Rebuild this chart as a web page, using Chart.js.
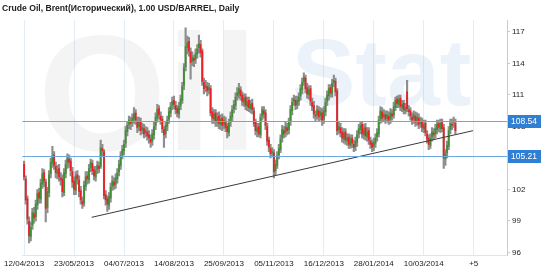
<!DOCTYPE html>
<html>
<head>
<meta charset="utf-8">
<script src="https://cdn.jsdelivr.net/npm/chart.js@4"></script>
<style>
  html, body { margin: 0; padding: 0; background: #fff; }
  canvas { display: block; }
</style>
</head>
<body>
<canvas id="chart" width="550" height="273"></canvas>
<script>
const title = 'Crude Oil, Brent(Исторический), 1.00 USD/BARREL, Daily';

// bar index of each date tick and its label
const tickIdx = [0, 30, 60, 90, 120, 150, 180, 210, 240, 270];
const tickLabels = ['12/04/2013', '23/05/2013', '04/07/2013', '14/08/2013', '25/09/2013',
  '05/11/2013', '16/12/2013', '28/01/2014', '10/03/2014', '+5'];
const priceTicks = [96, 99, 102, 105, 108, 111, 114, 117];

// marked levels and the drawn trend line (bar index / price)
const levels = [108.54, 105.21];
const trendX = [40.6, 269.6];
const trendY = [99.35, 107.6];

const opens = [
  104.4,103.0,101.1,99.0,97.5,98.6,99.7,99.4,100.5,101.7,
  101.1,102.5,103.6,102.7,100.3,101.7,103.5,104.5,105.3,104.2,
  103.5,104.0,103.1,103.0,101.7,103.5,104.5,104.9,104.7,103.7,
  102.8,101.9,103.4,102.9,101.9,100.9,100.7,102.3,103.3,102.9,
  104.1,104.5,103.9,103.2,103.9,104.2,104.2,105.9,105.6,101.5,
  101.1,100.5,101.2,102.3,102.7,102.5,103.0,103.7,104.3,105.3,
  105.7,106.4,107.5,108.2,108.5,108.4,108.7,109.3,108.5,108.0,
  108.4,107.7,107.8,107.4,107.5,107.2,106.8,106.6,107.2,108.1,
  108.8,109.7,109.0,108.7,107.7,107.3,108.0,108.7,109.3,110.0,
  110.5,110.0,109.7,109.2,110.0,110.5,111.9,113.7,115.5,116.1,
  115.1,114.2,114.5,114.4,114.9,115.5,115.8,115.2,112.2,111.7,
  111.8,111.5,111.6,109.4,108.7,109.3,108.4,109.0,108.2,108.8,
  108.2,108.5,108.0,107.4,108.4,108.9,109.7,110.0,110.9,111.1,
  111.5,111.0,110.3,110.8,109.9,110.5,109.7,110.2,109.5,108.4,
  107.5,108.0,107.2,109.0,109.5,109.3,108.0,106.7,105.9,105.5,
  105.5,103.8,104.3,105.3,105.8,106.9,107.6,107.4,107.9,107.7,
  108.5,109.5,110.4,110.5,110.1,110.4,110.9,111.5,112.3,112.6,
  111.7,111.0,111.6,110.3,110.0,109.1,109.1,109.5,109.0,109.3,
  108.7,109.4,110.4,110.9,111.7,111.1,112.2,112.3,111.4,107.7,
  107.9,107.5,106.8,107.5,106.6,107.0,106.2,106.9,106.3,106.1,
  106.5,107.3,107.7,108.2,107.2,107.9,107.0,107.6,106.6,106.4,
  106.1,106.4,107.0,107.3,108.7,109.4,108.9,109.1,108.8,109.0,
  108.7,109.2,109.1,109.8,110.6,110.1,110.7,109.8,110.2,109.5,
  111.3,109.6,109.5,108.9,108.7,109.0,108.5,108.8,108.3,108.4,
  107.8,108.3,107.3,106.9,106.2,107.0,107.4,107.3,107.7,108.3,
  107.8,108.4,107.9,104.9,105.5,106.1,107.7,108.2,108.5,108.3
];
const highs = [
  104.7,103.3,101.4,99.4,98.9,100.2,100.3,101.0,102.0,102.1,
  103.0,104.0,103.9,103.0,102.2,103.8,105.0,106.1,105.6,104.6,
  104.3,104.4,103.6,103.4,104.0,104.8,105.4,105.3,105.0,104.1,
  103.2,103.7,103.8,103.3,102.3,101.3,102.8,103.7,103.7,104.4,
  104.9,104.8,104.2,104.2,104.7,104.6,106.7,106.3,105.8,101.9,
  101.4,101.7,102.6,103.3,103.1,103.5,104.0,104.8,105.6,106.2,
  106.7,108.0,108.5,109.0,108.9,109.2,109.8,109.6,108.9,108.9,
  108.8,108.3,108.2,108.0,107.9,107.6,107.2,107.7,108.4,109.3,
  110.1,110.0,109.4,109.0,108.0,108.5,109.0,109.8,110.3,110.8,
  110.9,110.4,110.0,110.3,111.0,112.2,114.0,117.4,116.6,116.5,
  115.5,115.1,114.8,115.4,115.8,116.7,116.2,115.4,112.6,112.4,
  112.2,112.1,111.9,109.8,109.6,109.6,109.3,109.4,109.1,109.2,
  109.0,108.9,108.3,108.7,109.4,110.0,110.5,111.2,111.7,112.1,
  111.8,111.3,111.1,111.1,110.8,110.8,110.5,110.6,109.8,108.7,
  108.3,108.3,109.2,109.9,109.9,109.6,108.3,107.0,106.3,106.0,
  105.8,104.8,105.6,106.3,107.2,108.1,108.0,108.4,108.3,108.8,
  110.0,110.7,111.0,110.9,110.9,111.2,112.0,112.6,113.1,112.9,
  112.1,111.9,111.9,110.7,110.4,109.5,110.0,109.9,109.8,109.7,
  109.9,110.7,111.4,112.0,112.0,112.5,112.9,112.6,111.6,108.5,
  108.3,107.9,107.8,107.8,107.3,107.3,107.2,107.2,106.7,107.0,
  107.6,108.2,108.5,108.5,108.2,108.3,107.9,107.9,107.0,106.7,
  106.9,107.3,107.8,109.0,109.9,109.8,109.6,109.5,109.5,109.4,
  109.7,109.6,110.3,110.8,110.9,111.0,111.0,110.5,110.5,110.2,
  112.4,110.0,109.8,109.3,109.5,109.4,109.3,109.2,108.9,108.8,
  108.6,108.6,107.6,107.2,107.3,107.9,107.8,108.2,108.6,108.6,
  108.7,108.7,108.2,105.8,106.6,108.0,108.7,108.7,108.9,108.7
];
const lows = [
  102.9,100.6,98.7,96.9,97.1,98.2,98.8,99.0,100.1,100.7,
  100.7,102.1,102.3,98.9,99.8,101.3,103.1,104.1,103.9,103.1,
  103.0,102.8,102.4,101.3,101.4,103.1,104.0,104.1,103.3,102.2,
  101.5,101.5,102.5,101.3,100.6,100.2,100.4,101.9,102.5,102.6,
  103.7,103.4,102.9,102.8,103.5,103.6,104.0,105.2,101.1,100.5,
  99.9,100.1,100.8,101.9,102.0,102.1,102.6,103.3,103.9,104.9,
  105.3,106.0,107.1,107.8,107.7,108.0,108.3,108.2,107.4,107.6,
  107.2,107.3,106.9,107.0,106.7,106.4,106.0,106.2,106.8,107.7,
  108.4,108.7,108.2,107.4,106.0,106.9,107.6,108.3,108.9,109.6,
  109.7,109.2,108.9,108.8,109.6,110.2,111.5,113.3,114.9,114.7,
  112.5,113.8,113.7,114.0,114.5,115.0,114.6,111.9,111.1,111.3,
  110.9,111.1,109.0,108.3,108.3,108.0,108.0,107.8,107.7,107.6,
  107.8,107.5,106.9,107.1,108.0,108.5,109.3,109.6,110.5,110.7,
  110.5,110.0,109.9,109.6,109.5,109.4,109.3,109.2,108.0,107.2,
  107.0,107.0,106.9,108.6,108.8,107.7,106.2,105.6,105.0,105.1,
  103.1,103.4,104.0,104.9,105.5,106.5,106.9,107.0,107.2,107.3,
  108.1,109.1,110.0,109.6,109.7,110.0,110.5,111.1,111.9,111.2,
  110.7,110.6,110.0,109.5,108.8,108.5,108.7,108.5,108.6,108.1,
  108.3,109.0,110.0,110.5,110.8,110.8,111.8,110.9,107.2,107.3,
  107.0,106.5,106.4,106.3,106.2,105.9,105.9,106.0,105.6,105.7,
  106.1,106.9,107.3,106.9,106.8,106.7,106.6,106.3,105.9,105.6,
  105.7,106.0,106.6,107.0,108.3,108.4,108.5,108.3,108.4,108.2,
  108.3,108.6,108.8,109.5,109.8,109.8,109.5,109.4,109.2,109.2,
  109.4,109.0,108.6,108.2,108.3,108.0,108.1,107.8,107.9,107.5,
  107.4,107.1,106.4,105.8,105.9,106.6,106.8,106.9,107.3,107.5,
  107.4,107.5,104.0,104.3,105.0,105.8,107.3,107.7,107.9,107.3
];
const closes = [
  103.2,101.0,99.2,97.6,98.4,99.8,99.3,100.6,101.6,101.2,
  102.6,103.5,102.8,100.2,101.8,103.4,104.6,105.2,104.3,103.6,
  103.9,103.2,102.9,101.8,103.6,104.4,105.0,104.6,103.8,102.7,
  102.0,103.3,103.0,101.8,101.0,100.6,102.4,103.2,103.0,104.0,
  104.6,103.8,103.3,103.8,104.3,104.0,106.0,105.7,101.4,101.0,
  100.6,101.3,102.2,102.8,102.4,103.1,103.6,104.4,105.2,105.8,
  106.3,107.6,108.1,108.6,108.3,108.8,109.2,108.6,107.9,108.5,
  107.6,107.9,107.3,107.6,107.1,106.9,106.5,107.3,108.0,108.9,
  109.6,109.1,108.6,107.8,107.2,108.1,108.6,109.4,109.9,110.4,
  110.1,109.6,109.3,109.9,110.6,111.8,113.6,115.6,116.0,115.2,
  114.1,114.6,114.3,115.0,115.4,115.9,115.0,112.3,111.6,111.9,
  111.4,111.7,109.3,108.8,109.2,108.5,108.9,108.3,108.7,108.1,
  108.6,107.9,107.5,108.3,109.0,109.6,110.1,110.8,111.2,111.6,
  110.9,110.4,110.7,110.0,110.4,109.8,110.1,109.6,108.3,107.6,
  107.9,107.3,108.9,109.6,109.2,108.1,106.6,106.0,105.4,105.6,
  103.7,104.4,105.2,105.9,106.8,107.7,107.3,108.0,107.6,108.4,
  109.6,110.3,110.6,110.0,110.5,110.8,111.6,112.2,112.7,111.6,
  111.1,111.5,110.4,109.9,109.2,109.0,109.6,108.9,109.4,108.6,
  109.5,110.3,111.0,111.6,111.2,112.1,112.4,111.3,107.6,108.0,
  107.4,106.9,107.4,106.7,106.9,106.3,106.8,106.4,106.0,106.6,
  107.2,107.8,108.1,107.3,107.8,107.1,107.5,106.7,106.3,106.0,
  106.5,106.9,107.4,108.6,109.5,108.8,109.2,108.7,109.1,108.6,
  109.3,109.0,109.9,110.5,110.2,110.6,109.9,110.1,109.6,109.8,
  109.7,109.4,109.0,108.6,109.1,108.4,108.9,108.2,108.5,107.9,
  108.2,107.4,106.8,106.3,106.9,107.5,107.2,107.8,108.2,107.9,
  108.3,107.8,105.0,105.4,106.2,107.6,108.3,108.1,108.4,107.6
];

const UP = '#3d9130';
const DOWN = '#f01e23';
const WICK = '#8e8e8e';
const LEVEL = '#6ea6de';
const BOX = '#2f7fd4';

const wicks = lows.map((l, i) => ({ x: i, y: [l, highs[i]] }));
const bodies = opens.map((o, i) => ({ x: i, y: [o, closes[i]] }));
const bodyColors = opens.map((o, i) => closes[i] >= o ? UP : DOWN);

const overlay = {
  id: 'overlay',
  beforeDatasetsDraw(chart) {
    const { ctx, chartArea } = chart;
    ctx.save();
    ctx.beginPath();
    ctx.rect(chartArea.left, chartArea.top, chartArea.width, chartArea.height);
    ctx.clip();
    // faint site watermark behind the candles
    ctx.font = 'bold 165px "Liberation Sans", Arial';
    ctx.fillStyle = 'rgba(0, 0, 0, 0.045)';
    ctx.fillText('Oil', 38, 150);
    ctx.font = 'bold 95px "Liberation Sans", Arial';
    ctx.fillStyle = 'rgba(90, 150, 215, 0.12)';
    ctx.fillText('Stat', 292, 105);
    ctx.restore();
  },
  afterDatasetsDraw(chart) {
    const { ctx, chartArea, scales } = chart;
    ctx.save();
    ctx.strokeStyle = LEVEL;
    ctx.lineWidth = 1;
    levels.forEach(v => {
      const y = Math.round(scales.y.getPixelForValue(v)) + 0.5;
      ctx.beginPath();
      ctx.moveTo(chartArea.left, y);
      ctx.lineTo(chartArea.right, y);
      ctx.stroke();
    });
    ctx.restore();
  },
  afterDraw(chart) {
    const { ctx, chartArea, scales } = chart;
    ctx.save();
    ctx.font = '8.5px "Liberation Sans", Arial';
    ctx.textBaseline = 'middle';
    levels.forEach(v => {
      const y = Math.round(scales.y.getPixelForValue(v));
      ctx.fillStyle = BOX;
      ctx.fillRect(chartArea.right + 1, y - 6, 33, 13);
      ctx.fillStyle = '#fff';
      ctx.fillText(v.toFixed(2), chartArea.right + 4, y + 0.5);
    });
    ctx.fillStyle = '#222';
    ctx.font = 'bold 8.6px "Liberation Sans", Arial';
    ctx.textBaseline = 'middle';
    ctx.fillText(title, 2, 9);
    ctx.restore();
  }
};

new Chart(document.getElementById('chart'), {
  type: 'bar',
  data: {
    datasets: [
      {
        type: 'line',
        data: trendX.map((x, i) => ({ x: x, y: trendY[i] })),
        borderColor: '#3a3a3a',
        borderWidth: 1,
        pointRadius: 0,
        order: 0
      },
      {
        data: bodies,
        backgroundColor: bodyColors,
        barThickness: 1.1,
        minBarLength: 1,
        grouped: false,
        order: 1
      },
      {
        data: wicks,
        backgroundColor: WICK,
        barThickness: 1.5,
        grouped: false,
        order: 2
      }
    ]
  },
  options: {
    responsive: false,
    animation: false,
    devicePixelRatio: 1,
    layout: { padding: { top: 20, left: 20, right: 0, bottom: 0 } },
    plugins: {
      legend: { display: false },
      tooltip: { enabled: false }
    },
    scales: {
      x: {
        type: 'linear',
        min: -1,
        max: 290,
        offset: false,
        afterBuildTicks: s => { s.ticks = tickIdx.map(v => ({ value: v })); },
        afterFit: s => { s.height = 18; },
        ticks: {
          autoSkip: false,
          maxRotation: 0,
          padding: 4,
          color: '#222',
          font: { family: '"Liberation Sans", Arial', size: 8 },
          callback: v => tickLabels[tickIdx.indexOf(v)]
        },
        grid: { color: '#e4ecf4', drawTicks: false, offset: false },
        border: { color: '#dde6ef' }
      },
      y: {
        position: 'right',
        min: 95.76,
        max: 118.14,
        beginAtZero: false,
        afterBuildTicks: s => { s.ticks = priceTicks.map(v => ({ value: v })); },
        afterFit: s => { s.width = 43; },
        ticks: {
          padding: 2,
          color: '#222',
          font: { family: '"Liberation Sans", Arial', size: 8 }
        },
        grid: { drawOnChartArea: false, tickLength: 3, color: '#b9d0e8' },
        border: { color: '#b9d0e8' }
      }
    }
  },
  plugins: [overlay]
});
</script>
</body>
</html>
